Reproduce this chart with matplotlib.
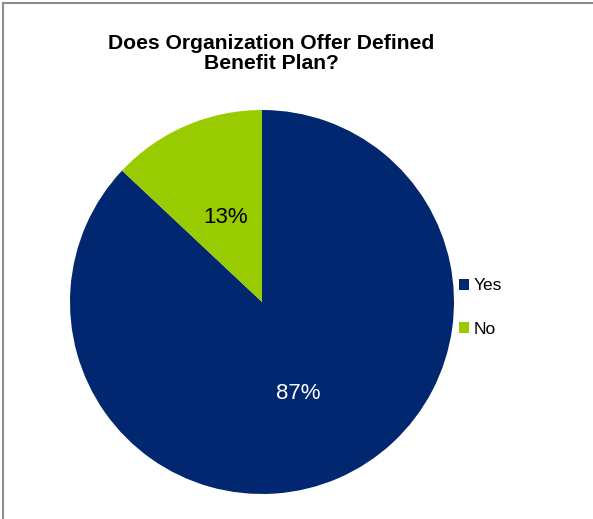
import matplotlib
matplotlib.use('Agg')
import matplotlib.pyplot as plt
from matplotlib.patches import Rectangle

# survey answers
labels = ['Yes', 'No']
shares = [87, 13]
colors = ['#00276F', '#99CC00']
title = 'Does Organization Offer Defined\nBenefit Plan?'

plt.rcParams['font.family'] = ['Liberation Sans', 'DejaVu Sans']

W, H = 593, 519
fig = plt.figure(figsize=(W / 100, H / 100), dpi=100)

# grey chart border (runs off the right and bottom edge)
fig.patches.append(Rectangle((3 / W, -0.1), 1.2, 1.1 - 3.5 / H,
                             transform=fig.transFigure, fill=False,
                             edgecolor='#8C8C8C', linewidth=1.5))

# pie: centre (262, 302) px, radius 192 px
cx, cy, r = 262, 302, 192
ax = fig.add_axes([(cx - r) / W, (H - cy - r) / H, 2 * r / W, 2 * r / H])
wedges, _, autotexts = ax.pie(shares, colors=colors, startangle=90,
                              counterclock=False, autopct='%d%%',
                              pctdistance=0.5, radius=1,
                              wedgeprops=dict(linewidth=0))
autotexts[0].set_color('white')
autotexts[1].set_color('black')
for t in autotexts:
    t.set_fontsize(16)
    x, y = t.get_position()
    t.set_position((x * 0.96, y - 0.02))
ax.set_xlim(-1, 1)
ax.set_ylim(-1, 1)
ax.set_aspect('auto')
ax.axis('off')

fig.text(271.5 / W, 1 - 53.5 / H, title, ha='center', va='center',
         fontsize=15.2, fontweight='bold', linespacing=1.1)

fig.legend(wedges, labels, loc='center left',
           bbox_to_anchor=(452 / W, 1 - 307.5 / H), frameon=False,
           fontsize=12.5, handlelength=0.6, handleheight=0.6,
           handletextpad=0.25, labelspacing=1.62, borderaxespad=0)

fig.savefig('out.png', dpi=100)
